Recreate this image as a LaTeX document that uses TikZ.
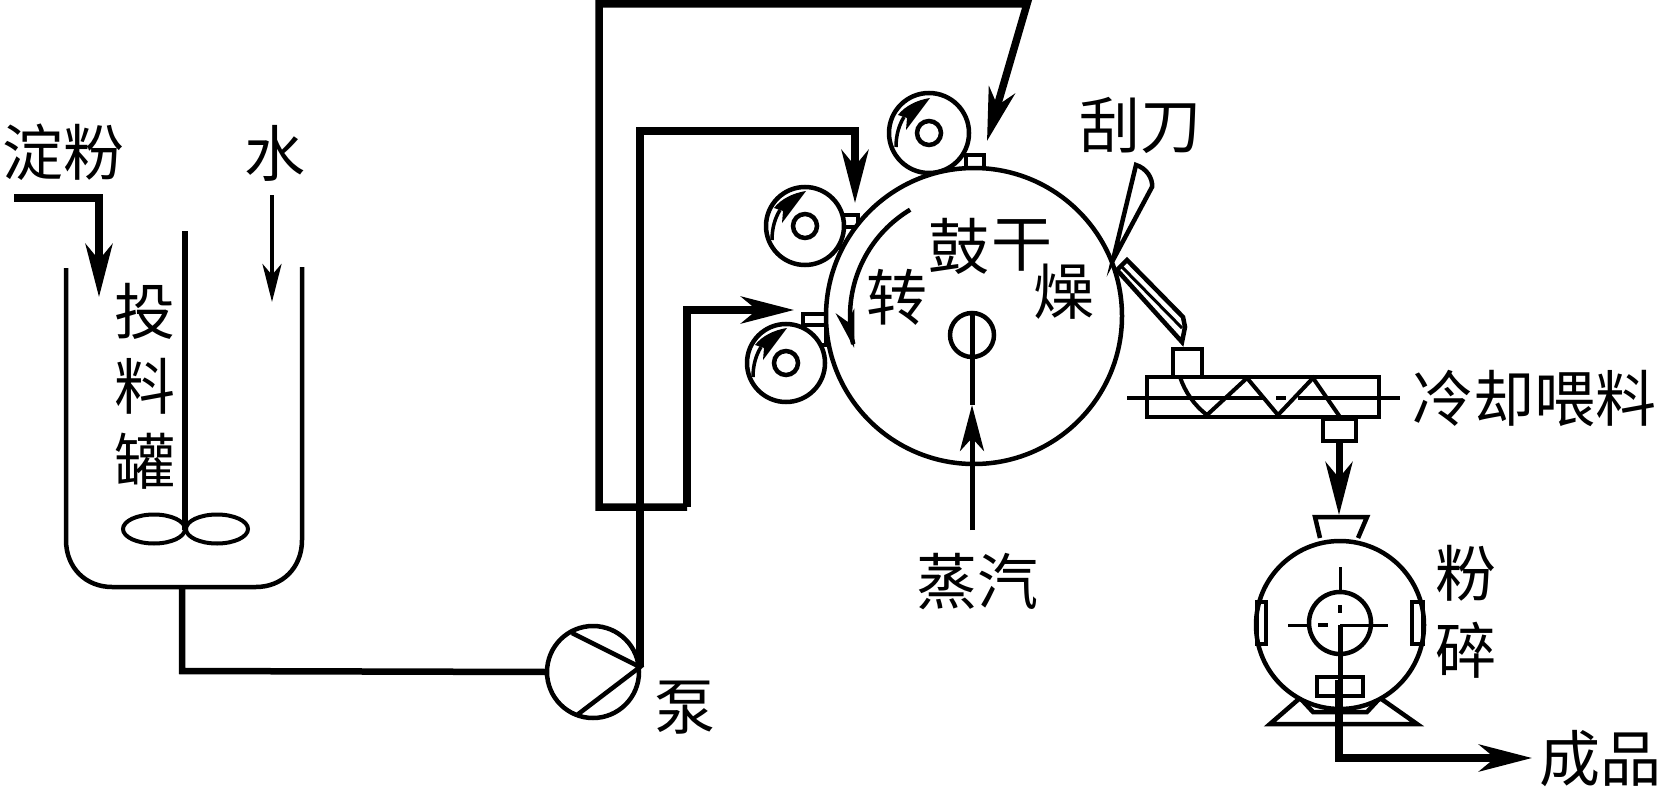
\documentclass[tikz,border=0pt]{standalone}
\usepackage{fontspec}
\setmainfont{Noto Sans CJK SC}
\usetikzlibrary{arrows.meta,calc,shapes.geometric}
\tikzset{
  x=1pt,y=-1pt,
  every node/.style={inner sep=0pt,outer sep=0pt},
  lbl/.style={font=\fontsize{61}{61}\selectfont,text=black},
  pipe/.style={line width=7.5pt,line join=miter,draw=black},
  bigtip/.style={-{Stealth[length=53pt,width=27pt,inset=16pt]}},
  midtip/.style={-{Stealth[length=46pt,width=24pt,inset=13pt]}},
  smalltip/.style={-{Stealth[length=38pt,width=19pt,inset=11pt]}},
  outl/.style={line width=4.5pt,draw=black,line join=miter},
  thin line/.style={line width=3pt,draw=black},
  roundshape/.style={circle,draw=black,line width=4.5pt,fill=white},
}
\newcommand{\rollermark}[1]{%
  \draw[line width=3.5pt] ($(#1)+(-33,14)$) .. controls ($(#1)+(-33,2)$) and ($(#1)+(-30,-8)$) .. ($(#1)+(-25,-16)$);
  \fill ($(#1)+(1,-35)$) -- ($(#1)+(-23,-3)$) -- ($(#1)+(-22,-15)$) -- ($(#1)+(-31,-18)$)
    .. controls ($(#1)+(-24,-27)$) and ($(#1)+(-12,-33)$) .. cycle;
}
\begin{document}
\begin{tikzpicture}
\useasboundingbox (0,0) rectangle (1662,789);
\fill[white] (0,0) rectangle (1662,789);

% labels
\node[lbl] (tdian) at (63,152) {淀粉};
\node[lbl] (tshui) at (275,153) {水};
\node[lbl] (ttou) at (145,311) {投};
\node[lbl] (tliao) at (145,386) {料};
\node[lbl] (tguan) at (145,461) {罐};
\node[lbl] (tbeng) at (685,708) {泵};
\node[lbl] (tgua) at (1140,125) {刮刀};
\node[lbl] (tzheng) at (977,582) {蒸汽};
\node[lbl] (tleng) at (1534,398) {冷却喂料};
\node[lbl] (tfen) at (1466,573) {粉};
\node[lbl] (tsui) at (1466,650) {碎};
\node[lbl] (tcheng) at (1600,759) {成品};

% feed tank
\draw[outl] (66,268) -- (66,540) .. controls (66,568) and (86,587) .. (112,587) -- (256,587)
  .. controls (282,587) and (302,568) .. (302,540) -- (302,267);
\coordinate (shafttop) at (185,231);
\coordinate (shaftend) at (185,530);
\draw[line width=6pt] (shafttop) -- (shaftend);
\node[draw=black,line width=4pt,ellipse,minimum width=62pt,minimum height=29pt] (padl) at (154,529) {};
\node[draw=black,line width=4pt,ellipse,minimum width=62pt,minimum height=29pt] (padr) at (217,529) {};

\coordinate (s0) at (14,198);
\coordinate (s1) at (99,198);
\coordinate (s2) at (99,297);
\draw[pipe,bigtip] (s0) -- (s1) -- (s2);
\coordinate (w0) at (272,195);
\coordinate (w1) at (272,302);
\draw[line width=4.5pt,smalltip] (w0) -- (w1);

% pump and pipes
\node[roundshape,minimum size=92pt] (pump) at (593,672) {};
\coordinate (outlet) at (182,587);
\coordinate (o1) at (182,671);
\draw[line width=6.5pt,line join=miter] (outlet) -- (o1) -- (pump.west);
\coordinate (ptip) at (640,667);
\coordinate (pa) at (572,633);
\coordinate (pb) at (577,715);
\draw[line width=4.5pt,line join=miter] (pa) -- (ptip) -- (pb);

\coordinate (a0) at (640,667);
\coordinate (a1) at (640,131);
\coordinate (a2) at (855,131);
\coordinate (a3) at (855,203);
\draw[pipe,bigtip] (a0) -- (a1) -- (a2) -- (a3);

\coordinate (b0) at (687,507);
\coordinate (b1) at (599,507);
\coordinate (b2) at (599,4);
\coordinate (b3) at (1027,4);
\coordinate (b4) at (987,141);
\draw[pipe,bigtip] (b0) -- (b1) -- (b2) -- (b3) -- (b4);

\coordinate (c0) at (687,507);
\coordinate (c1) at (687,310);
\coordinate (c2) at (794,310);
\draw[pipe,bigtip] (c0) -- (c1) -- (c2);

% small feed boxes
\draw[outl] (966,155) rectangle (984,175);
\draw[outl] (840,215) rectangle (858,227);
\draw[outl] (840,227) rectangle (858,248);
\draw[outl] (803,314) rectangle (826,325);
\draw[outl] (803,325) rectangle (826,345);

% rollers
\node[roundshape,minimum size=80pt] (r1) at (929,133) {};
\node[roundshape,minimum size=78pt] (r2) at (805,226) {};
\node[roundshape,minimum size=78pt] (r3) at (786,363) {};
\foreach \r in {r1,r2,r3}{
  \node[roundshape,minimum size=24pt] (\r a) at (\r) {};
  \rollermark{\r}
}

% drum
\node[roundshape,minimum size=296pt] (drum) at (974,316) {};
\node[lbl] (tgu) at (959,246) {鼓};
\node[lbl] (tgan) at (1022,245) {干};
\node[lbl] (tzao) at (1064,292) {燥};
\node[lbl] (tzhuan) at (897,297) {转};
\draw[line width=4.5pt,smalltip] plot[domain=239:165,samples=40] ({974+124*cos(\x)},{316+124*sin(\x)});

\node[circle,draw=black,line width=4.5pt,minimum size=44pt] (axle) at (972,335) {};
\coordinate (st0) at (972,530);
\coordinate (st1) at (972,405);
\draw[line width=5pt,midtip] (st0) -- (st1);
\draw[line width=5pt] (st1) -- (axle.north);

% scraper
\coordinate (k0) at (1113,260);
\draw[outl] (k0) -- (1136,165) .. controls (1146,168) and (1153,178) .. (1152,187) -- cycle;
\draw[outl] (1117,270) -- (1127,260) -- (1183,317) -- (1185,327) -- (1182,342) -- cycle;
\draw[line width=3pt] (1122,267) -- (1182,328);

% screw conveyor
\draw[outl] (1173,375) -- (1173,349) -- (1202,349) -- (1202,375);
\draw[outl] (1147,377) rectangle (1379,417);
\draw[outl] (1323,419) rectangle (1356,441);
\draw[thin line,line width=3.5pt] (1127,398) -- (1263,398);
\draw[thin line,line width=3.5pt] (1276,398) -- (1286,398);
\draw[thin line,line width=3.5pt] (1298,398) -- (1400,398);
\draw[line width=4pt,line join=miter] (1180,377) .. controls (1185,392) and (1194,405) .. (1207,415)
  -- (1247,378) -- (1278,415) -- (1313,378) -- (1340,417);
\coordinate (f0) at (1339,441);
\coordinate (f1) at (1339,515);
\draw[line width=7pt,bigtip] (f0) -- (f1);

% grinder
\draw[outl] (1320,538) -- (1315,517) -- (1367,517) -- (1358,538);
\draw[outl] (1270,724) -- (1417,724) -- (1380,698) -- (1367,712) -- (1313,712) -- (1300,698) -- cycle;
\node[roundshape,minimum size=168pt] (grinder) at (1340,625) {};
\draw[outl] (1313,712) -- (1367,712);
\draw[outl] (1257,602) rectangle (1266,644);
\draw[outl] (1412,602) rectangle (1423,644);
\node[circle,draw=black,line width=4.5pt,minimum size=62pt] (rotor) at (1340,623) {};
\draw[thin line] (1340,567) -- (1340,593);
\draw[thin line,line width=4pt] (1340,605) -- (1340,613);
\draw[thin line] (1288,625) -- (1308,625);
\draw[thin line,line width=4pt] (1318,625) -- (1328,625);
\draw[thin line] (1340,625) -- (1388,625);
\draw[outl] (1317,677) rectangle (1363,696);
\draw[line width=5pt] (1340,625) -- (1340,680);
\coordinate (g0) at (1339,680);
\coordinate (g1) at (1339,758);
\coordinate (g2) at (1532,758);
\draw[pipe,bigtip] (g0) -- (g1) -- (g2);
\end{tikzpicture}
\end{document}
